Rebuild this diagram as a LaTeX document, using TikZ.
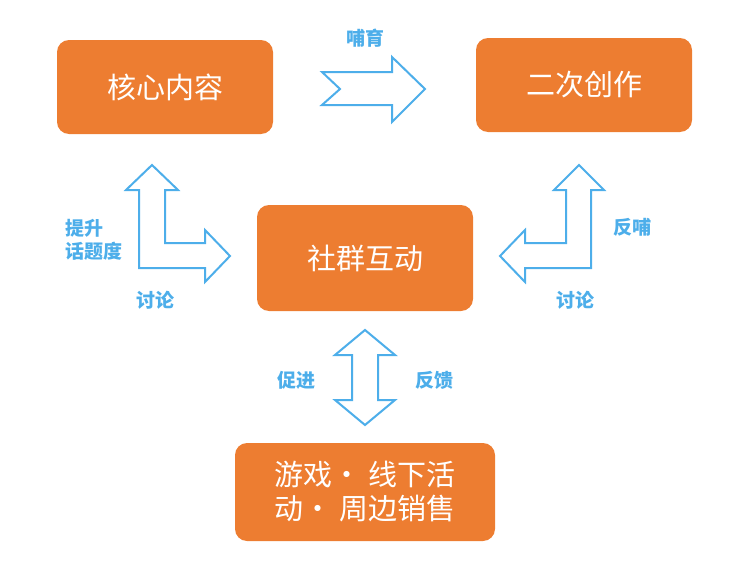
\documentclass[tikz,border=0pt]{standalone}
\usepackage{fontspec}
\setmainfont{Noto Sans CJK SC}
\begin{document}
\begin{tikzpicture}[x=1pt,y=-1pt,
  box/.style={fill=orng,rounded corners=12pt,text=white,font=\fontsize{29}{34}\selectfont,align=center},
  arr/.style={draw=blu,line width=2pt,fill=white,line join=miter},
  lab/.style={text=blu,font=\fontsize{19}{23}\selectfont\bfseries,align=left}]
\definecolor{orng}{HTML}{ED7D31}
\definecolor{blu}{HTML}{4DAEEA}
\useasboundingbox (0,0) rectangle (748,570);
\fill[orng,rounded corners=12pt] (57,40) rectangle (273,134);
\node[box] (a) at (165,87) {核心内容};
\fill[orng,rounded corners=12pt] (476,38) rectangle (692,132);
\node[box] (b) at (584,85) {二次创作};
\fill[orng,rounded corners=12pt] (257,205) rectangle (473,311);
\node[box] (c) at (365,258) {社群互动};
\fill[orng,rounded corners=12pt] (235,443) rectangle (495,541);
\node[box] (d) at (365,492) {游戏· 线下活\\动· 周边销售};
\draw[arr] (322,72)--(392,72)--(392,57)--(425,89)--(392,122)--(392,105)--(322,105)--(340,89)--cycle;
\draw[arr] (152,165)--(178,190)--(165,190)--(165,243)--(205,243)--(205,230)--(230,256)--(205,282)--(205,268)--(139,268)--(139,190)--(126,190)--cycle;
\draw[arr] (579,165)--(604,190)--(591,190)--(591,268)--(525,268)--(525,282)--(500,256)--(525,230)--(525,243)--(566,243)--(566,190)--(554,190)--cycle;
\draw[arr] (365,330)--(395,355)--(378,355)--(378,400)--(395,400)--(365,425)--(335,400)--(352,400)--(352,355)--(335,355)--cycle;
\node[lab] (l1) at (365,38) {哺育};
\node[lab,anchor=west] (l2) at (62,240) {提升\\话题度};
\node[lab] (l3) at (155,300) {讨论};
\node[lab] (l4) at (632,227) {反哺};
\node[lab] (l5) at (575,300) {讨论};
\node[lab] (l6) at (296,380) {促进};
\node[lab] (l7) at (434,380) {反馈};
\end{tikzpicture}
\end{document}
